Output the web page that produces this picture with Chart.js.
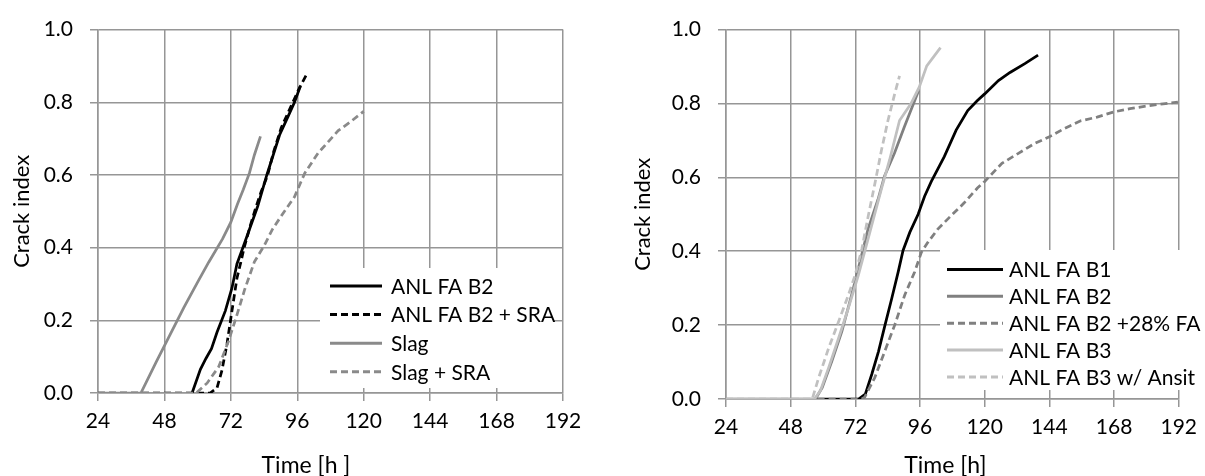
<!DOCTYPE html>
<html>
<head>
<meta charset="utf-8">
<script src="https://cdn.jsdelivr.net/npm/chart.js@4.4.1/dist/chart.umd.min.js"></script>
<style>
  html, body { margin: 0; padding: 0; background: #fff; }
  #wrap { position: relative; width: 1205px; height: 476px; }
  #leftBox { position: absolute; left: 0; top: 0; }
  #rightBox { position: absolute; left: 600px; top: 0; }
</style>
</head>
<body>
<div id="wrap">
  <div id="leftBox"><canvas id="leftChart" width="600" height="476"></canvas></div>
  <div id="rightBox"><canvas id="rightChart" width="605" height="476"></canvas></div>
</div>
<script>
// --- axis ticks
const timeTicks = [24, 48, 72, 96, 120, 144, 168, 192];
const crackTicks = [0, 0.2, 0.4, 0.6, 0.8, 1.0];

// --- left chart: ANL FA B2 / slag
const b2Time = [58, 61, 63, 65, 67, 70, 72.4, 74.2, 76.2, 78.7, 81.7, 85, 87.1, 89.6, 92.6, 95, 97.1];
const b2Crack = [0, 0.065, 0.095, 0.122, 0.167, 0.226, 0.289, 0.355, 0.397, 0.45, 0.514, 0.6, 0.65, 0.71, 0.76, 0.8, 0.844];

const b2SraTime = [24, 64.5, 67, 68.8, 70.6, 72.4, 74.2, 75.6, 76.8, 79, 81, 83, 85.3, 87.5, 90.2, 93.8, 96.8, 99.6];
const b2SraCrack = [0, 0, 0.014, 0.063, 0.135, 0.226, 0.316, 0.36, 0.4, 0.46, 0.51, 0.555, 0.6, 0.665, 0.73, 0.79, 0.84, 0.88];

const slagTime = [24, 39.5, 45, 50, 55, 60, 64, 69, 72, 74.4, 76.5, 78.7, 80.5, 82.7];
const slagCrack = [0, 0, 0.085, 0.16, 0.235, 0.305, 0.36, 0.424, 0.47, 0.52, 0.56, 0.605, 0.655, 0.706];

const slagSraTime = [24, 59.5, 63.4, 67.6, 71.2, 74, 77, 80.5, 84, 87, 90.2, 95, 98.7, 103.5, 110.8, 115, 120];
const slagSraCrack = [0, 0, 0.027, 0.072, 0.144, 0.21, 0.285, 0.361, 0.405, 0.45, 0.487, 0.54, 0.605, 0.66, 0.722, 0.745, 0.775];

// --- right chart: ANL FA batches
const b1Time = [58, 73.2, 75.7, 78.1, 80.6, 83, 85.5, 87.9, 89.7, 92.2, 95.3, 97.7, 100.2, 105, 109.4, 113.7, 117.3, 120, 125.1, 129.4, 134.9, 139.8];
const b1Crack = [0, 0, 0.013, 0.067, 0.129, 0.2, 0.272, 0.344, 0.402, 0.451, 0.5, 0.549, 0.589, 0.656, 0.728, 0.781, 0.808, 0.826, 0.862, 0.884, 0.908, 0.931];

const rb2Time = [24, 57.2, 59.7, 63.3, 67, 70.6, 73.1, 76.7, 80.4, 82.8, 86.5, 90.2, 95.5];
const rb2Crack = [0, 0, 0.031, 0.103, 0.183, 0.281, 0.353, 0.46, 0.54, 0.603, 0.665, 0.737, 0.835];

const b2FaTime = [58, 74.4, 75.5, 79.2, 82.9, 86.6, 90.3, 94, 96.5, 98.9, 102.6, 107.5, 112.4, 117.3, 120, 126.4, 132.5, 138.6, 144, 149.5, 155.6, 161.7, 167.8, 173.9, 180.1, 186.2, 191.7];
const b2FaCrack = [0, 0, 0.005, 0.058, 0.129, 0.2, 0.281, 0.344, 0.397, 0.424, 0.46, 0.496, 0.531, 0.571, 0.589, 0.638, 0.665, 0.692, 0.71, 0.732, 0.753, 0.763, 0.777, 0.786, 0.793, 0.799, 0.804];

const b3Time = [24, 56.8, 59, 62.1, 65.8, 69.4, 73.1, 76.7, 81.6, 84.7, 88.4, 92.6, 95.7, 98.5, 103.6];
const b3Crack = [0, 0, 0.022, 0.085, 0.165, 0.246, 0.335, 0.433, 0.567, 0.647, 0.754, 0.799, 0.844, 0.902, 0.951];

const b3AnsitTime = [24, 56, 58.4, 62.1, 65.8, 69.4, 71.9, 74.4, 76.8, 79.3, 81.7, 84.1, 86.6, 88.4];
const b3AnsitCrack = [0, 0, 0.058, 0.138, 0.21, 0.281, 0.335, 0.406, 0.496, 0.585, 0.674, 0.754, 0.826, 0.875];

const gridColor = '#969696';
const fontName = 'Lato, "Open Sans", sans-serif';

function pts(xs, ys) {
    return xs.map((x, i) => ({ x: x, y: ys[i] }));
}

function series(label, xs, ys, color, dashed, idx, count) {
    return {
        label: label,
        data: pts(xs, ys),
        borderColor: color,
        borderWidth: 2.75,
        borderDash: dashed ? [7, 4] : [],
        pointRadius: 0,
        tension: 0,
        fill: false,
        // later series sit on top, like the spreadsheet original
        order: count - idx
    };
}

// legend drawn inside the plot, on a white box that hides the grid
const boxLegend = {
    id: 'boxLegend',
    afterDraw(chart, args, o) {
        const ctx = chart.ctx;
        ctx.save();
        ctx.fillStyle = '#fff';
        ctx.fillRect(o.x, o.y, o.w, o.h);
        ctx.font = '21px ' + fontName;
        ctx.textBaseline = 'middle';
        ctx.textAlign = 'left';
        chart.data.datasets.forEach((ds, i) => {
            const y = o.rowY + i * o.rowGap;
            ctx.strokeStyle = ds.borderColor;
            ctx.lineWidth = 3;
            ctx.setLineDash(ds.borderDash);
            ctx.beginPath();
            ctx.moveTo(o.lineX, y);
            ctx.lineTo(o.lineX + o.lineW, y);
            ctx.stroke();
            ctx.setLineDash([]);
            ctx.fillStyle = '#000';
            ctx.fillText(ds.label, o.textX, y + 1);
        });
        ctx.restore();
    }
};

// x axis title, centred under the plot with a small shift
const xTitle = {
    id: 'xTitle',
    afterDraw(chart, args, o) {
        const ctx = chart.ctx;
        const a = chart.chartArea;
        ctx.save();
        ctx.font = '23px ' + fontName;
        ctx.fillStyle = '#000';
        ctx.textAlign = 'center';
        ctx.textBaseline = 'middle';
        ctx.fillText(o.text, (a.left + a.right) / 2 + o.dx, o.y);
        ctx.restore();
    }
};

function makeOptions(yWidth, xHeight, padRight, padTop, yTitlePad, legend, title) {
    return {
        responsive: false,
        animation: false,
        devicePixelRatio: 1,
        layout: { padding: { left: 0, right: padRight, top: padTop, bottom: 0 } },
        plugins: {
            legend: { display: false },
            tooltip: { enabled: false },
            boxLegend: legend,
            xTitle: title
        },
        scales: {
            x: {
                type: 'linear',
                min: timeTicks[0],
                max: timeTicks[timeTicks.length - 1],
                afterBuildTicks: s => { s.ticks = timeTicks.map(v => ({ value: v })); },
                afterFit: s => { s.height = xHeight; },
                grid: { color: gridColor, lineWidth: 1.5, tickLength: 8, tickColor: gridColor },
                border: { color: gridColor, width: 1.5 },
                ticks: { color: '#000', font: { family: fontName, size: 21 }, padding: 8, maxRotation: 0 }
            },
            y: {
                min: 0,
                max: 1,
                afterBuildTicks: s => { s.ticks = crackTicks.map(v => ({ value: v })); },
                afterFit: s => { s.width = yWidth; },
                grid: { color: gridColor, lineWidth: 1.5, tickLength: 8, tickColor: gridColor },
                border: { color: gridColor, width: 1.5 },
                ticks: {
                    color: '#000',
                    font: { family: fontName, size: 21 },
                    padding: 17,
                    callback: v => v.toFixed(1)
                },
                title: {
                    display: true,
                    text: 'Crack index',
                    color: '#000',
                    font: { family: fontName, size: 22 },
                    padding: { top: yTitlePad, bottom: 0 }
                }
            }
        }
    };
}

const leftSets = [
    ['ANL FA B2', b2Time, b2Crack, '#000000', false],
    ['ANL FA B2 + SRA', b2SraTime, b2SraCrack, '#000000', true],
    ['Slag', slagTime, slagCrack, '#8a8a8a', false],
    ['Slag + SRA', slagSraTime, slagSraCrack, '#8a8a8a', true]
];

const rightSets = [
    ['ANL FA B1', b1Time, b1Crack, '#000000', false],
    ['ANL FA B2', rb2Time, rb2Crack, '#808080', false],
    ['ANL FA B2 +28% FA', b2FaTime, b2FaCrack, '#808080', true],
    ['ANL FA B3', b3Time, b3Crack, '#c0c0c0', false],
    ['ANL FA B3 w/ Ansit', b3AnsitTime, b3AnsitCrack, '#c0c0c0', true]
];

new Chart(document.getElementById('leftChart'), {
    type: 'line',
    data: { datasets: leftSets.map((s, i) => series(s[0], s[1], s[2], s[3], s[4], i, leftSets.length)) },
    options: makeOptions(98, 83, 37, 24, 9,
        { x: 320, y: 268, w: 233, h: 120, lineX: 330, lineW: 52, textX: 391, rowY: 286, rowGap: 28.6 },
        { text: 'Time [h ]', dx: -24.5, y: 466 }),
    plugins: [boxLegend, xTitle]
});

new Chart(document.getElementById('rightChart'), {
    type: 'line',
    data: { datasets: rightSets.map((s, i) => series(s[0], s[1], s[2], s[3], s[4], i, rightSets.length)) },
    options: makeOptions(126, 77, 23, 25, 30,
        { x: 340, y: 250, w: 265, h: 140, lineX: 347, lineW: 56, textX: 409, rowY: 269.5, rowGap: 26.85 },
        { text: 'Time [h]', dx: -7, y: 466 }),
    plugins: [boxLegend, xTitle]
});
</script>
</body>
</html>
